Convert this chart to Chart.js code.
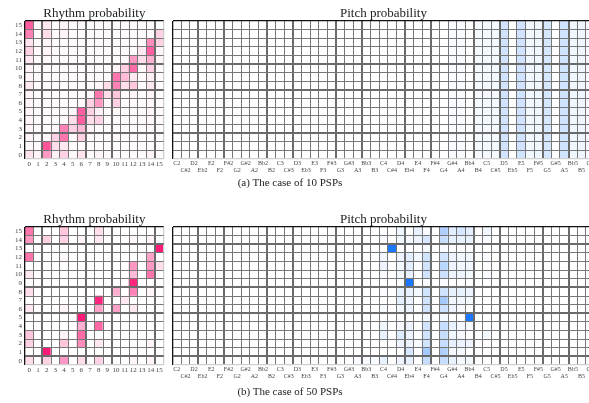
<!DOCTYPE html>
<html>
<head>
<meta charset="utf-8">
<script src="https://cdn.jsdelivr.net/npm/chart.js@4.4.1/dist/chart.umd.min.js"></script>
<style>
html, body { margin: 0; padding: 0; width: 589px; height: 403px; overflow: hidden; background: #fff; }
canvas { position: absolute; }
.caption { position: absolute; left: 0; width: 580px; text-align: center; font: 11px 'Liberation Serif', 'Times New Roman', serif; line-height: 13px; color: #222; }
</style>
</head>
<body>
<canvas id="rhythmA" width="170" height="180" style="left:0;top:0"></canvas>
<canvas id="pitchA" width="435" height="180" style="left:165px;top:0"></canvas>
<div class="caption" style="top:176px">(a) The case of 10 PSPs</div>
<canvas id="rhythmB" width="170" height="180" style="left:0;top:206px"></canvas>
<canvas id="pitchB" width="435" height="180" style="left:165px;top:206px"></canvas>
<div class="caption" style="top:385px">(b) The case of 50 PSPs</div>
<script>
// tick labels
const rhythmSteps = ['0','1','2','3','4','5','6','7','8','9','10','11','12','13','14','15'];
const rowLabels = ['0','1','2','3','4','5','6','7','8','9','10','11','12','13','14','15'];
const pitchNames = ['C2','C#2','D2','Eb2','E2','F2','F#2','G2','G#2','A2','Bb2','B2',
    'C3','C#3','D3','Eb3','E3','F3','F#3','G3','G#3','A3','Bb3','B3',
    'C4','C#4','D4','Eb4','E4','F4','F#4','G4','G#4','A4','Bb4','B4',
    'C5','C#5','D5','Eb5','E5','F5','F#5','G5','G#5','A5','Bb5','B5','C6'];

// rhythm probability, case of 10 PSPs (rows listed from 15 at the top down to 0)
const rhythmA = [
    [0.70,0.03,0.10,0.02,0.04,0.02,0.03,0.02,0.02,0.02,0.02,0.02,0.02,0.02,0.02,0.00],
    [0.55,0.02,0.15,0.02,0.05,0.02,0.02,0.02,0.02,0.02,0.02,0.02,0.02,0.02,0.02,0.20],
    [0.12,0.02,0.05,0.02,0.02,0.02,0.02,0.02,0.02,0.02,0.02,0.02,0.02,0.02,0.50,0.20],
    [0.20,0.02,0.05,0.02,0.02,0.02,0.02,0.02,0.02,0.02,0.02,0.02,0.02,0.10,0.70,0.05],
    [0.10,0.02,0.03,0.02,0.02,0.02,0.02,0.02,0.02,0.02,0.02,0.02,0.45,0.15,0.35,0.05],
    [0.05,0.02,0.02,0.02,0.02,0.02,0.02,0.02,0.02,0.02,0.05,0.20,0.65,0.02,0.20,0.02],
    [0.05,0.02,0.02,0.02,0.02,0.02,0.02,0.02,0.02,0.02,0.60,0.30,0.10,0.02,0.07,0.02],
    [0.10,0.02,0.02,0.02,0.02,0.02,0.02,0.02,0.03,0.15,0.55,0.15,0.25,0.02,0.10,0.02],
    [0.05,0.02,0.02,0.02,0.02,0.02,0.02,0.03,0.60,0.15,0.25,0.02,0.05,0.02,0.05,0.02],
    [0.05,0.02,0.02,0.02,0.02,0.02,0.03,0.20,0.45,0.03,0.20,0.02,0.02,0.02,0.03,0.02],
    [0.05,0.02,0.02,0.02,0.02,0.03,0.70,0.20,0.07,0.02,0.03,0.02,0.02,0.02,0.05,0.02],
    [0.05,0.02,0.02,0.02,0.03,0.15,0.70,0.15,0.20,0.02,0.02,0.02,0.02,0.02,0.03,0.02],
    [0.05,0.02,0.02,0.03,0.55,0.20,0.30,0.05,0.02,0.02,0.02,0.02,0.02,0.02,0.03,0.02],
    [0.05,0.02,0.03,0.20,0.60,0.02,0.20,0.02,0.02,0.02,0.03,0.02,0.02,0.02,0.02,0.02],
    [0.03,0.02,0.75,0.15,0.10,0.02,0.02,0.01,0.01,0.01,0.01,0.01,0.01,0.01,0.01,0.01],
    [0.12,0.05,0.45,0.07,0.20,0.03,0.12,0.02,0.05,0.02,0.02,0.02,0.02,0.02,0.05,0.02]
];

// rhythm probability, case of 50 PSPs (rows 15 -> 0)
const rhythmB = [
    [0.60,0,0,0,0.25,0,0,0,0.15,0,0,0,0,0,0,0],
    [0.45,0,0.20,0,0.20,0,0.05,0,0.10,0,0,0,0.03,0,0.05,0],
    [0,0,0,0,0,0,0,0,0,0,0,0,0,0,0,1.00],
    [0.60,0,0,0,0.03,0,0,0,0,0,0,0,0,0,0.40,0],
    [0,0,0,0,0,0,0,0,0,0,0,0,0.45,0,0.45,0.15],
    [0.10,0,0,0,0,0,0,0,0,0,0,0,0.30,0,0.60,0],
    [0,0,0,0,0,0,0,0,0,0,0,0,0.95,0,0,0],
    [0.15,0,0,0,0,0,0,0,0,0,0.35,0,0.55,0,0.05,0],
    [0,0,0,0,0,0,0,0,0.95,0,0,0.10,0,0,0,0],
    [0.10,0,0,0,0.05,0,0,0,0.40,0,0.40,0,0.10,0,0,0],
    [0,0,0,0,0,0,1.00,0,0,0,0,0,0,0,0,0],
    [0,0,0,0,0,0,0.35,0,0.65,0,0,0,0,0,0,0],
    [0.25,0,0,0,0.05,0,0.65,0,0,0,0,0,0,0,0,0],
    [0.20,0,0,0,0.25,0,0.50,0,0.10,0,0,0,0,0,0.05,0],
    [0,0,1.00,0,0,0,0,0,0,0,0,0,0,0,0,0],
    [0.15,0,0.20,0,0.45,0,0.15,0,0.20,0,0,0,0.05,0,0.05,0]
];

// pitch probability, case of 10 PSPs: every row shows the same column profile
const pitchAProfile = [
    0,0,0,0,0,0,0,0,0,0,0,0,
    0,0,0,0,0,0,0,0,0,0,0,0,
    0,0,0,0,0,0,0,0,0.03,0.03,0,0.04,
    0.05,0.05,0.20,0,0.20,0.06,0.06,0.18,0,0.20,0.06,0.07,0.03
];

// pitch probability, case of 50 PSPs: [column, value] per row, rows 15 -> 0
const pitchBRows = [
    [[24,0.02],[26,0.07],[28,0.10],[29,0.03],[31,0.35],[32,0.12],[33,0.18],[34,0.12],[36,0.06]],
    [[24,0.04],[26,0.06],[27,0.05],[28,0.08],[29,0.18],[31,0.25],[32,0.10],[33,0.10],[34,0.10],[36,0.03]],
    [[25,1.00],[29,0.04],[31,0.03]],
    [[24,0.06],[26,0.08],[27,0.12],[28,0.05],[29,0.20],[31,0.20],[32,0.08],[33,0.06],[34,0.06],[36,0.03]],
    [[24,0.08],[26,0.05],[27,0.12],[29,0.20],[31,0.30],[32,0.08],[33,0.06],[34,0.06]],
    [[24,0.03],[26,0.06],[27,0.10],[29,0.20],[31,0.22],[32,0.08],[33,0.08],[34,0.05],[36,0.03]],
    [[27,1.00],[29,0.03],[31,0.03]],
    [[24,0.02],[26,0.10],[27,0.10],[28,0.05],[29,0.20],[31,0.20],[32,0.10],[33,0.10],[34,0.08]],
    [[26,0.12],[27,0.08],[29,0.20],[31,0.40],[32,0.06],[33,0.06],[34,0.05]],
    [[24,0.03],[26,0.05],[27,0.08],[29,0.20],[31,0.22],[32,0.08],[33,0.04]],
    [[29,0.05],[31,0.05],[34,1.00]],
    [[24,0.06],[26,0.04],[27,0.08],[29,0.20],[31,0.25],[32,0.10],[33,0.05],[34,0.04]],
    [[24,0.10],[26,0.15],[27,0.08],[29,0.20],[31,0.25],[32,0.06],[33,0.04],[36,0.05]],
    [[24,0.02],[26,0.08],[27,0.08],[28,0.03],[29,0.20],[31,0.25],[32,0.10],[33,0.08],[34,0.08]],
    [[27,0.18],[29,0.40],[31,0.35],[32,0.05],[33,0.05]],
    [[21,0.03],[22,0.03],[23,0.03],[24,0.10],[26,0.08],[27,0.10],[29,0.25],[31,0.25],[32,0.10],[33,0.05],[34,0.05]]
];

const serif = "'Liberation Serif', 'Times New Roman', serif";

function pink(v) {
    return `rgb(255,${Math.round(255 - v * 230)},${Math.round(255 - v * 135)})`;
}
function blue(v) {
    return `rgb(${Math.round(255 - v * 230)},${Math.round(255 - v * 135)},255)`;
}

// grid line style: spines are black on top/left and pale on bottom/right
function lineStyle(count, thick, firstIsDark) {
    const idx = ctx => (ctx.index === undefined ? count : ctx.index);
    return {
        lineWidth: ctx => {
            const i = idx(ctx);
            if (i === 0 || i === count) return 1.3;
            return thick.includes(i) ? 2 : 1;
        },
        color: ctx => {
            const i = idx(ctx);
            if (i === 0) return firstIsDark ? '#111' : '#cfcfcf';
            if (i === count) return firstIsDark ? '#cfcfcf' : '#111';
            return thick.includes(i) ? '#6a6a6a' : '#777';
        }
    };
}

function heatmap(id, opts) {
    const cols = opts.labels;
    const datasets = rowLabels.map((lab, r) => ({
        data: cols.map(() => [r - 0.5, r + 0.5]),
        backgroundColor: cols.map((_, c) => opts.color(opts.value(r, c))),
        grouped: false,
        barPercentage: 1,
        categoryPercentage: 1,
        borderWidth: 0,
        yAxisID: 'yg'
    }));

    const xs = lineStyle(cols.length, opts.thickX, true);
    const ys = lineStyle(rowLabels.length, opts.thickY, false);

    const scales = {
        x: {
            offset: true,
            border: { display: false },
            grid: { z: 1, offset: true, drawTicks: false, lineWidth: xs.lineWidth, color: xs.color },
            ticks: {
                autoSkip: false, maxRotation: 0, minRotation: 0,
                padding: opts.tickPad, color: '#444',
                font: { family: serif, size: opts.tickSize, lineHeight: opts.tickLine },
                callback: opts.xTick
            },
            afterFit: s => { s.height = 21; }
        },
        yg: {
            type: 'linear', position: 'left',
            min: -0.5, max: 15.5,
            border: { display: false },
            afterBuildTicks: s => { s.ticks = [-0.5].concat(rowLabels.map(l => Number(l) + 0.5)).map(v => ({ value: v })); },
            grid: { z: 1, drawTicks: false, lineWidth: ys.lineWidth, color: ys.color },
            ticks: { display: false },
            afterFit: s => { s.width = 0; }
        }
    };
    if (opts.rowTicks) {
        scales.y = {
            type: 'linear', position: 'left',
            min: -0.5, max: 15.5,
            border: { display: false },
            afterBuildTicks: s => { s.ticks = rowLabels.map(l => ({ value: Number(l) })); },
            grid: { display: false, drawTicks: false },
            ticks: { autoSkip: false, padding: 3, color: '#444', font: { family: serif, size: 7 } },
            afterFit: s => { s.width = 10; }
        };
    }

    new Chart(document.getElementById(id), {
        type: 'bar',
        data: { labels: cols, datasets: datasets },
        options: {
            responsive: false,
            animation: false,
            events: [],
            layout: { padding: opts.padding },
            plugins: {
                legend: { display: false },
                tooltip: { enabled: false },
                title: {
                    display: true,
                    text: opts.title,
                    fullSize: false,
                    color: '#222',
                    font: { family: serif, size: 13, weight: 'normal', lineHeight: 1.2 },
                    padding: { top: 5.4, bottom: 0 }
                }
            },
            scales: scales
        }
    });
}

const rhythmThickX = [2, 7, 10, 15];
const pitchThickX = [3, 6, 11, 14, 19, 22, 27, 30, 35, 38, 43, 46];

function rhythmOpts(matrix, thickY) {
    return {
        labels: rhythmSteps,
        title: 'Rhythm probability',
        color: pink,
        value: (r, c) => matrix[15 - r][c],
        rowTicks: true,
        thickX: rhythmThickX,
        thickY: thickY,
        tickSize: 7, tickLine: 1.2, tickPad: 1,
        padding: { left: 15, right: 6.3, top: 0, bottom: 0 }
    };
}

function pitchOpts(value, thickY) {
    return {
        labels: pitchNames,
        title: 'Pitch probability',
        color: blue,
        value: value,
        rowTicks: false,
        thickX: pitchThickX,
        thickY: thickY,
        tickSize: 6, tickLine: '7.5px', tickPad: 0.5,
        xTick: function (val, i) {
            const name = this.getLabelForValue(val);
            return i % 2 ? ['', name] : [name, ''];
        },
        padding: { left: 7.5, right: 5.6, top: 0, bottom: 0 }
    };
}

heatmap('rhythmA', rhythmOpts(rhythmA, [3, 8, 11]));
heatmap('rhythmB', rhythmOpts(rhythmB, [1, 6, 9, 14]));

heatmap('pitchA', pitchOpts((r, c) => pitchAProfile[c], [3, 8, 11]));
heatmap('pitchB', pitchOpts((r, c) => {
    const hit = pitchBRows[15 - r].find(p => p[0] === c);
    return hit ? hit[1] : 0;
}, [1, 6, 9, 14]));
</script>
</body>
</html>
